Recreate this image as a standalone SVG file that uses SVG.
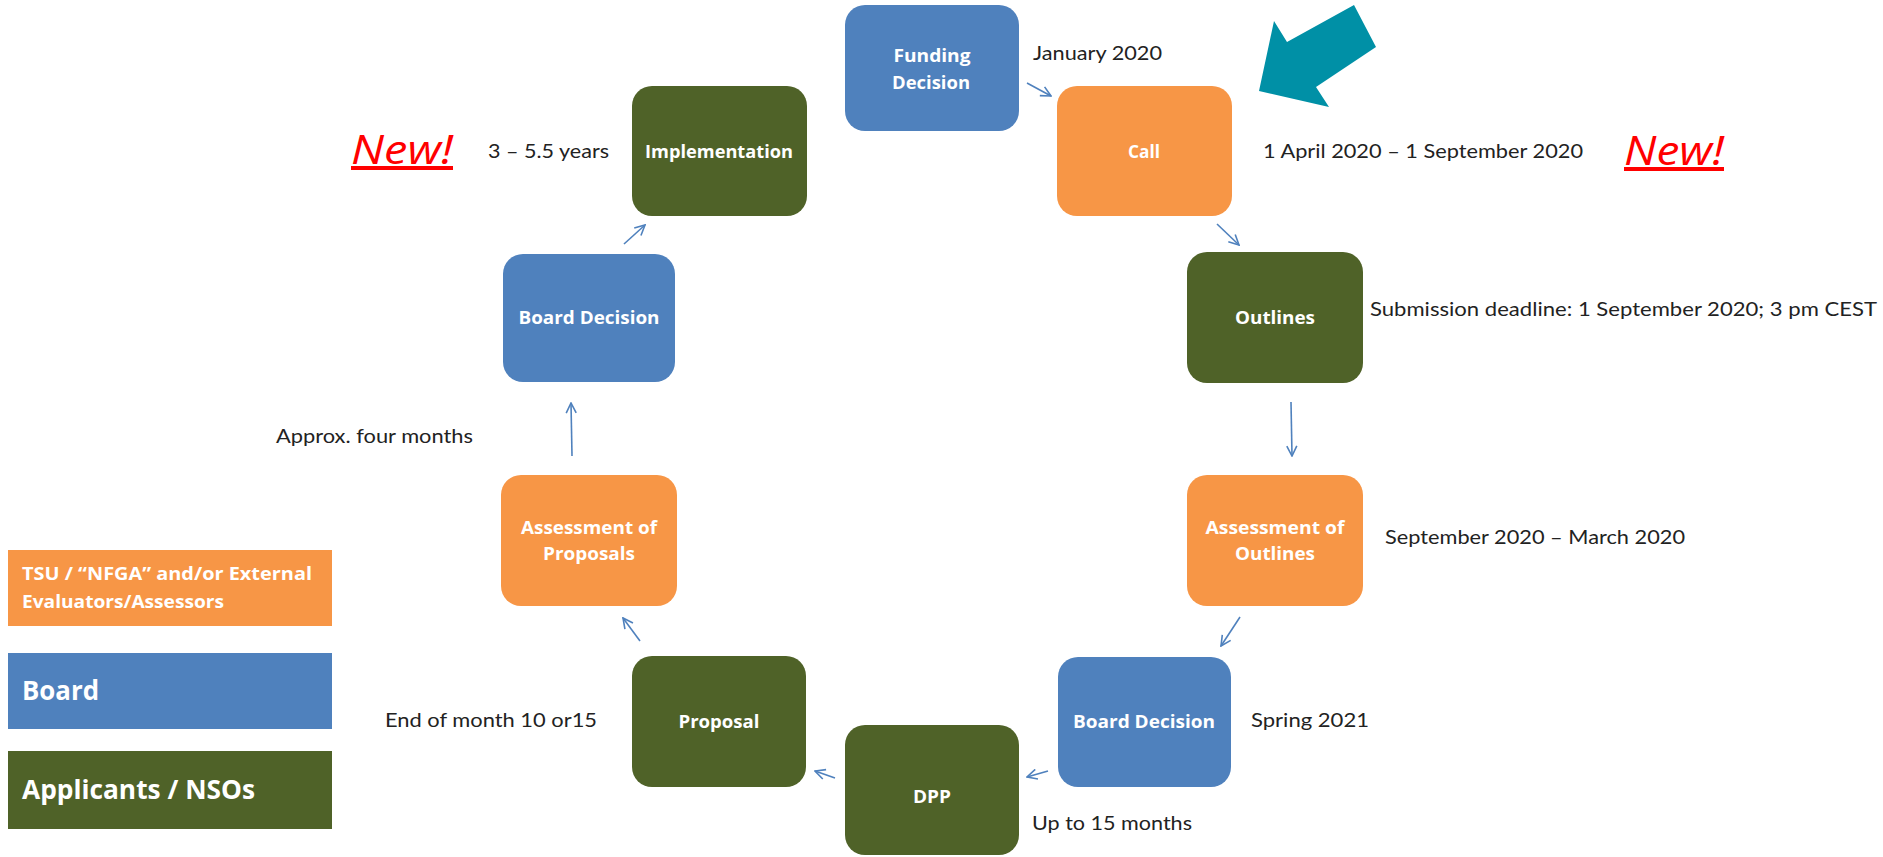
<svg xmlns="http://www.w3.org/2000/svg" width="1883" height="857" viewBox="0 0 1883 857">
<defs>
<style>
.box{stroke:none}
.blue{fill:#4F81BD}
.orange{fill:#F79646}
.green{fill:#4F6228}
.nt{font-family:"Open Sans","Liberation Sans",sans-serif;font-weight:700;font-size:18px;fill:#fff;text-anchor:middle}
.lbl{font-family:Lato,"Open Sans","Liberation Sans",sans-serif;font-size:19px;fill:#222}
.leg{font-family:"Open Sans","Liberation Sans",sans-serif;font-weight:700;fill:#fff}
.new{font-family:"Open Sans","Liberation Sans",sans-serif;font-style:italic;font-weight:400;font-size:40px;fill:#FF0000;text-decoration:underline}
.conn{stroke:#4F81BD;stroke-width:1.6;fill:none;marker-end:url(#ah)}
</style>
<marker id="ah" viewBox="0 0 12 12" refX="11" refY="6" markerWidth="12" markerHeight="12" markerUnits="userSpaceOnUse" orient="auto">
<path d="M1,1 L11,6 L1,11" fill="none" stroke="#4F81BD" stroke-width="1.6"/>
</marker>
</defs>
<rect width="1883" height="857" fill="#fff"/>

<g id="funding-decision">
<rect class="box blue" x="845" y="5" width="174" height="126" rx="20"/>
<text class="nt" x="932" y="62" textLength="77" lengthAdjust="spacingAndGlyphs">Funding</text>
<text class="nt" x="931" y="89" textLength="78" lengthAdjust="spacingAndGlyphs">Decision</text>
</g>
<g id="call">
<rect class="box orange" x="1057" y="86" width="175" height="130" rx="20"/>
<text class="nt" x="1144" y="158" textLength="32" lengthAdjust="spacingAndGlyphs">Call</text>
</g>
<g id="outlines">
<rect class="box green" x="1187" y="252" width="176" height="131" rx="20"/>
<text class="nt" x="1275" y="324" textLength="80" lengthAdjust="spacingAndGlyphs">Outlines</text>
</g>
<g id="assessment-outlines">
<rect class="box orange" x="1187" y="475" width="176" height="131" rx="20"/>
<text class="nt" x="1275" y="534" textLength="139" lengthAdjust="spacingAndGlyphs">Assessment of</text>
<text class="nt" x="1275" y="560" textLength="80" lengthAdjust="spacingAndGlyphs">Outlines</text>
</g>
<g id="board-decision-right">
<rect class="box blue" x="1058" y="657" width="173" height="130" rx="20"/>
<text class="nt" x="1144" y="728" textLength="142" lengthAdjust="spacingAndGlyphs">Board Decision</text>
</g>
<g id="dpp">
<rect class="box green" x="845" y="725" width="174" height="130" rx="20"/>
<text class="nt" x="932" y="803" textLength="38" lengthAdjust="spacingAndGlyphs">DPP</text>
</g>
<g id="proposal">
<rect class="box green" x="632" y="656" width="174" height="131" rx="20"/>
<text class="nt" x="719" y="728" textLength="81" lengthAdjust="spacingAndGlyphs">Proposal</text>
</g>
<g id="assessment-proposals">
<rect class="box orange" x="501" y="475" width="176" height="131" rx="20"/>
<text class="nt" x="589" y="534" textLength="136" lengthAdjust="spacingAndGlyphs">Assessment of</text>
<text class="nt" x="589" y="560" textLength="92" lengthAdjust="spacingAndGlyphs">Proposals</text>
</g>
<g id="board-decision-left">
<rect class="box blue" x="503" y="254" width="172" height="128" rx="20"/>
<text class="nt" x="589" y="324" textLength="141" lengthAdjust="spacingAndGlyphs">Board Decision</text>
</g>
<g id="implementation">
<rect class="box green" x="632" y="86" width="175" height="130" rx="20"/>
<text class="nt" x="719" y="158" textLength="148" lengthAdjust="spacingAndGlyphs">Implementation</text>
</g>

<g id="connectors">
<line class="conn" x1="1027" y1="83" x2="1051" y2="96"/>
<line class="conn" x1="1217" y1="224" x2="1239" y2="245"/>
<line class="conn" x1="1291" y1="402" x2="1292" y2="456"/>
<line class="conn" x1="1240" y1="617" x2="1221" y2="646"/>
<line class="conn" x1="1048" y1="771" x2="1027" y2="777"/>
<line class="conn" x1="835" y1="778" x2="815" y2="771"/>
<line class="conn" x1="640" y1="641" x2="623" y2="618"/>
<line class="conn" x1="572" y1="456" x2="571" y2="403"/>
<line class="conn" x1="624" y1="244" x2="645" y2="225"/>
</g>

<g id="teal-arrow">
<polygon points="1259,91 1274,21 1287,42 1354,5 1376,47 1316,87 1329,107" fill="#0090A6"/>
</g>

<g id="labels">
<text class="lbl" x="1033" y="60" textLength="129" lengthAdjust="spacingAndGlyphs">January 2020</text>
<text class="lbl" x="1263" y="158" textLength="320" lengthAdjust="spacingAndGlyphs">1 April 2020 – 1 September 2020</text>
<text class="lbl" x="1370" y="316" textLength="507" lengthAdjust="spacingAndGlyphs">Submission deadline: 1 September 2020; 3 pm CEST</text>
<text class="lbl" x="1385" y="544" textLength="300" lengthAdjust="spacingAndGlyphs">September 2020 – March 2020</text>
<text class="lbl" x="1251" y="727" textLength="118" lengthAdjust="spacingAndGlyphs">Spring 2021</text>
<text class="lbl" x="1032" y="830" textLength="160" lengthAdjust="spacingAndGlyphs">Up to 15 months</text>
<text class="lbl" x="385" y="727" textLength="212" lengthAdjust="spacingAndGlyphs">End of month 10 or15</text>
<text class="lbl" x="276" y="443" textLength="197" lengthAdjust="spacingAndGlyphs">Approx. four months</text>
<text class="lbl" x="488" y="158" textLength="121" lengthAdjust="spacingAndGlyphs">3 – 5.5 years</text>
<text class="new" x="351" y="164" textLength="102" lengthAdjust="spacingAndGlyphs">New!</text>
<text class="new" x="1624" y="165" textLength="100" lengthAdjust="spacingAndGlyphs">New!</text>
</g>

<g id="legend-assessors">
<rect class="orange" x="8" y="550" width="324" height="76"/>
<text class="leg" x="22" y="580" font-size="18" textLength="290" lengthAdjust="spacingAndGlyphs">TSU / “NFGA” and/or External</text>
<text class="leg" x="22" y="608" font-size="18" textLength="202" lengthAdjust="spacingAndGlyphs">Evaluators/Assessors</text>
</g>
<g id="legend-board">
<rect class="blue" x="8" y="653" width="324" height="76"/>
<text class="leg" x="22" y="700" font-size="26" textLength="77" lengthAdjust="spacingAndGlyphs">Board</text>
</g>
<g id="legend-applicants">
<rect class="green" x="8" y="751" width="324" height="78"/>
<text class="leg" x="22" y="799" font-size="27" textLength="233" lengthAdjust="spacingAndGlyphs">Applicants / NSOs</text>
</g>
</svg>
